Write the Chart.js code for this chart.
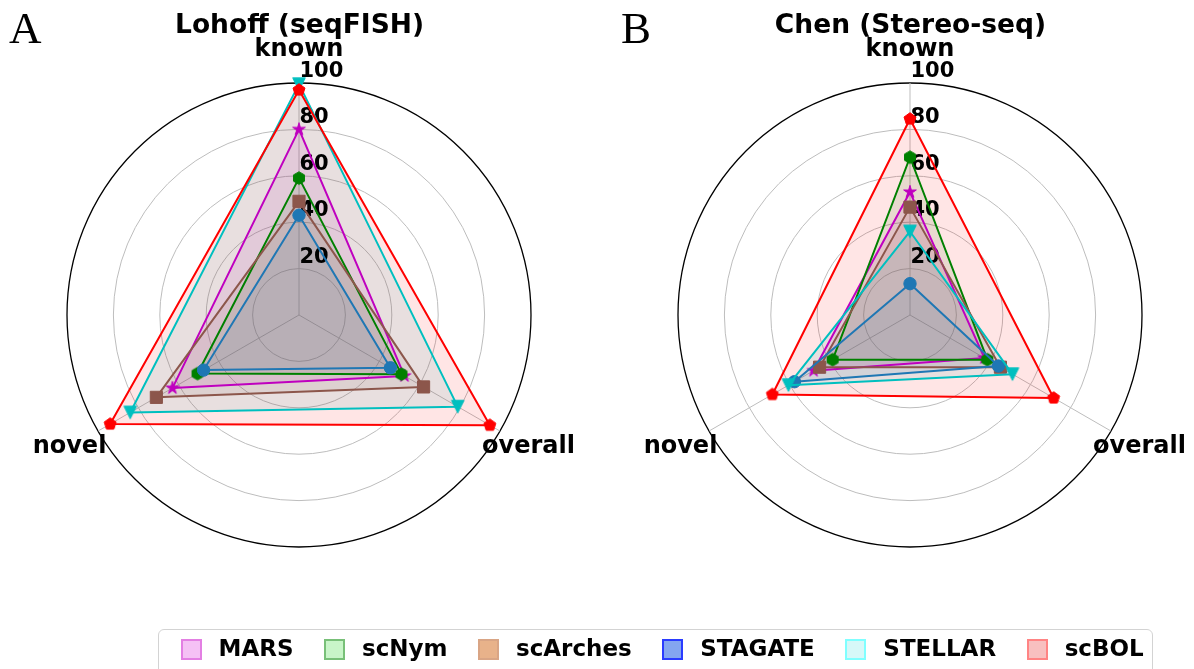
<!DOCTYPE html>
<html>
<head>
<meta charset="utf-8">
<script src="https://cdn.jsdelivr.net/npm/chart.js@4.4.1/dist/chart.umd.min.js"></script>
<style>
  html, body { margin: 0; padding: 0; background: #ffffff; }
  body { width: 1194px; height: 669px; position: relative; overflow: hidden; }
  #chartA { position: absolute; left: 0; top: 0; }
  #chartB { position: absolute; left: 600px; top: 0; }
  #legend {
    position: absolute; left: 158px; top: 629px; width: 995px; height: 58px;
    box-sizing: border-box; border: 1.5px solid #d3d3d3; border-radius: 6px;
    background: rgba(255,255,255,0.8);
    display: flex; align-items: flex-start; padding: 5px 0 0 21.5px;
  }
  .item { display: flex; align-items: flex-start; margin-right: 30.5px; }
  .item:last-child { margin-right: 0; }
  .swatch { width: 21px; height: 21px; box-sizing: border-box; border: 2px solid; margin-top: 4px; margin-right: 17px; }
  .name { font: bold 23px "DejaVu Sans"; line-height: 27px; color: #000; white-space: nowrap; }
</style>
</head>
<body>
<canvas id="chartA" width="600" height="669"></canvas>
<canvas id="chartB" width="594" height="669"></canvas>
<div id="legend"></div>
<script>
// Axes of each radar, in clockwise order starting at the top
const axisLabels = ['known', 'overall', 'novel'];
const radialTicks = [0, 20, 40, 60, 80, 100];
const methods = ['MARS', 'scNym', 'scArches', 'STAGATE', 'STELLAR', 'scBOL'];

// Lohoff (seqFISH) scores: [known, overall, novel]
const lohoffMARS     = [80, 52.5, 63];
const lohoffScNym    = [59, 51, 50.5];
const lohoffScArches = [49, 62, 71];
const lohoffSTAGATE  = [43, 45.5, 47.5];
const lohoffSTELLAR  = [99.5, 79, 84];
const lohoffScBOL    = [97, 95, 94];

// Chen (Stereo-seq) scores: [known, overall, novel]
const chenMARS     = [53, 37, 48];
const chenScNym    = [68, 38.5, 38.5];
const chenScArches = [46.5, 45, 45];
const chenSTAGATE  = [13.5, 44, 57.5];
const chenSTELLAR  = [36, 51, 60.5];
const chenScBOL    = [84.5, 71.5, 68.5];

const lohoffSeries = [lohoffMARS, lohoffScNym, lohoffScArches, lohoffSTAGATE, lohoffSTELLAR, lohoffScBOL];
const chenSeries   = [chenMARS, chenScNym, chenScArches, chenSTAGATE, chenSTELLAR, chenScBOL];

// Per-method styling
const lineColors   = ['#bf00bf', '#008000', '#8c564b', '#1f77b4', '#00bfbf', '#ff0000'];
const markerShapes = ['star', 'hexagon', 'square', 'circle', 'tridown', 'pentagon'];
const legendFill   = ['#f5c1f5', '#c8f5c8', '#e8b28a', '#84a6f0', '#d6f8f8', '#f8c0c0'];
const legendEdge   = ['#e37fe3', '#78c078', '#d9a585', '#2a3cff', '#80ffff', '#ff8484'];

function rgba(hex, a) {
  const n = parseInt(hex.slice(1), 16);
  return `rgba(${(n >> 16) & 255},${(n >> 8) & 255},${n & 255},${a})`;
}

// Small bitmap glyphs for marker shapes Chart.js lacks
function markerGlyph(shape, color) {
  const r = 6.3, pad = 2;
  const c = document.createElement('canvas');
  c.width = c.height = 2 * Math.ceil(r + pad);
  const g = c.getContext('2d');
  g.translate(c.width / 2, c.height / 2);
  g.beginPath();
  if (shape === 'star') {
    for (let k = 0; k < 10; k++) {
      const rad = k % 2 ? r * 0.382 : r + 0.4;
      const ang = -Math.PI / 2 + k * Math.PI / 5;
      g.lineTo(rad * Math.cos(ang), rad * Math.sin(ang));
    }
  } else if (shape === 'tridown') {
    g.moveTo(0, r);
    g.lineTo(-r, -r);
    g.lineTo(r, -r);
  } else {
    const n = shape === 'pentagon' ? 5 : 6;
    for (let k = 0; k < n; k++) {
      const ang = -Math.PI / 2 + k * 2 * Math.PI / n;
      g.lineTo(r * Math.cos(ang), r * Math.sin(ang));
    }
  }
  g.closePath();
  g.fillStyle = color;
  g.fill();
  g.lineWidth = 1;
  g.strokeStyle = color;
  g.stroke();
  return c;
}

function pointStyleFor(i) {
  const s = markerShapes[i];
  if (s === 'circle') return { style: 'circle', radius: 6.2 };
  if (s === 'square') return { style: 'rect', radius: 8.6 };
  return { style: markerGlyph(s, lineColors[i]), radius: 6 };
}

function buildDatasets(series) {
  return series.map((values, i) => {
    const p = pointStyleFor(i);
    return {
      label: methods[i],
      data: values,
      borderColor: lineColors[i],
      backgroundColor: rgba(lineColors[i], 0.1),
      borderWidth: 2,
      borderJoinStyle: 'round',
      fill: true,
      pointStyle: p.style,
      pointRadius: p.radius,
      pointBackgroundColor: lineColors[i],
      pointBorderColor: lineColors[i],
      pointBorderWidth: 1,
      order: methods.length - i
    };
  });
}

// Radial tick numbers, axis names and the panel letter
const radarText = {
  id: 'radarText',
  beforeDatasetsDraw(chart) {
    const s = chart.scales.r, ctx = chart.ctx;
    ctx.save();
    ctx.font = 'bold 21px "DejaVu Sans"';
    ctx.fillStyle = '#000';
    ctx.textAlign = 'left';
    ctx.textBaseline = 'alphabetic';
    s.ticks.forEach(t => {
      if (t.value <= 0) return;
      const d = s.getDistanceFromCenterForValue(t.value);
      ctx.fillText(String(t.value), s.xCenter + 0.5, s.yCenter - d - 6);
    });
    ctx.restore();
  },
  afterDraw(chart, args, opts) {
    const s = chart.scales.r, ctx = chart.ctx;
    const outer = s.getDistanceFromCenterForValue(s.max);
    ctx.save();
    ctx.font = 'bold 24px "DejaVu Sans"';
    ctx.fillStyle = '#000';
    ctx.textAlign = 'center';
    ctx.textBaseline = 'alphabetic';
    chart.data.labels.forEach((lab, i) => {
      const p = s.getPointPosition(i, outer + 33);
      ctx.fillText(lab, p.x, p.y + 5.8);
    });
    ctx.font = '45px "Liberation Serif"';
    ctx.textAlign = 'left';
    ctx.fillText(opts.letter, opts.letterX, 43);
    ctx.restore();
  }
};

function makeRadar(id, title, series, letter, letterX, padLeft, padRight) {
  return new Chart(document.getElementById(id), {
    type: 'radar',
    data: { labels: axisLabels, datasets: buildDatasets(series) },
    plugins: [radarText],
    options: {
      responsive: false,
      devicePixelRatio: 1,
      animation: false,
      events: [],
      layout: { padding: { left: padLeft, right: padRight, top: 0, bottom: 121 } },
      elements: { line: { tension: 0 } },
      plugins: {
        legend: { display: false },
        tooltip: { enabled: false },
        filler: { drawTime: 'beforeDatasetsDraw' },
        title: {
          display: true,
          text: title,
          color: '#000',
          font: { family: 'DejaVu Sans', size: 26.5, weight: 'bold' },
          padding: { top: 10, bottom: 41 }
        },
        radarText: { letter: letter, letterX: letterX }
      },
      scales: {
        r: {
          min: 0,
          max: 100,
          afterBuildTicks: sc => { sc.ticks = radialTicks.map(v => ({ value: v })); },
          ticks: { display: false },
          pointLabels: { display: false },
          grid: {
            circular: true,
            color: c => (c.tick && c.tick.value === 100 ? '#000000' : '#bdbdbd'),
            lineWidth: c => (c.tick && c.tick.value === 100 ? 1.3 : 1)
          },
          angleLines: { display: true, color: '#bdbdbd', lineWidth: 1 }
        }
      }
    }
  });
}

makeRadar('chartA', 'Lohoff (seqFISH)', lohoffSeries, 'A', 9, 67, 68);
makeRadar('chartB', 'Chen (Stereo-seq)', chenSeries, 'B', 21, 78, 51);

// Shared legend
const legend = document.getElementById('legend');
methods.forEach((m, i) => {
  const item = document.createElement('div');
  item.className = 'item';
  const sw = document.createElement('div');
  sw.className = 'swatch';
  sw.style.background = legendFill[i];
  sw.style.borderColor = legendEdge[i];
  const name = document.createElement('div');
  name.className = 'name';
  name.textContent = m;
  item.appendChild(sw);
  item.appendChild(name);
  legend.appendChild(item);
});
</script>
</body>
</html>
